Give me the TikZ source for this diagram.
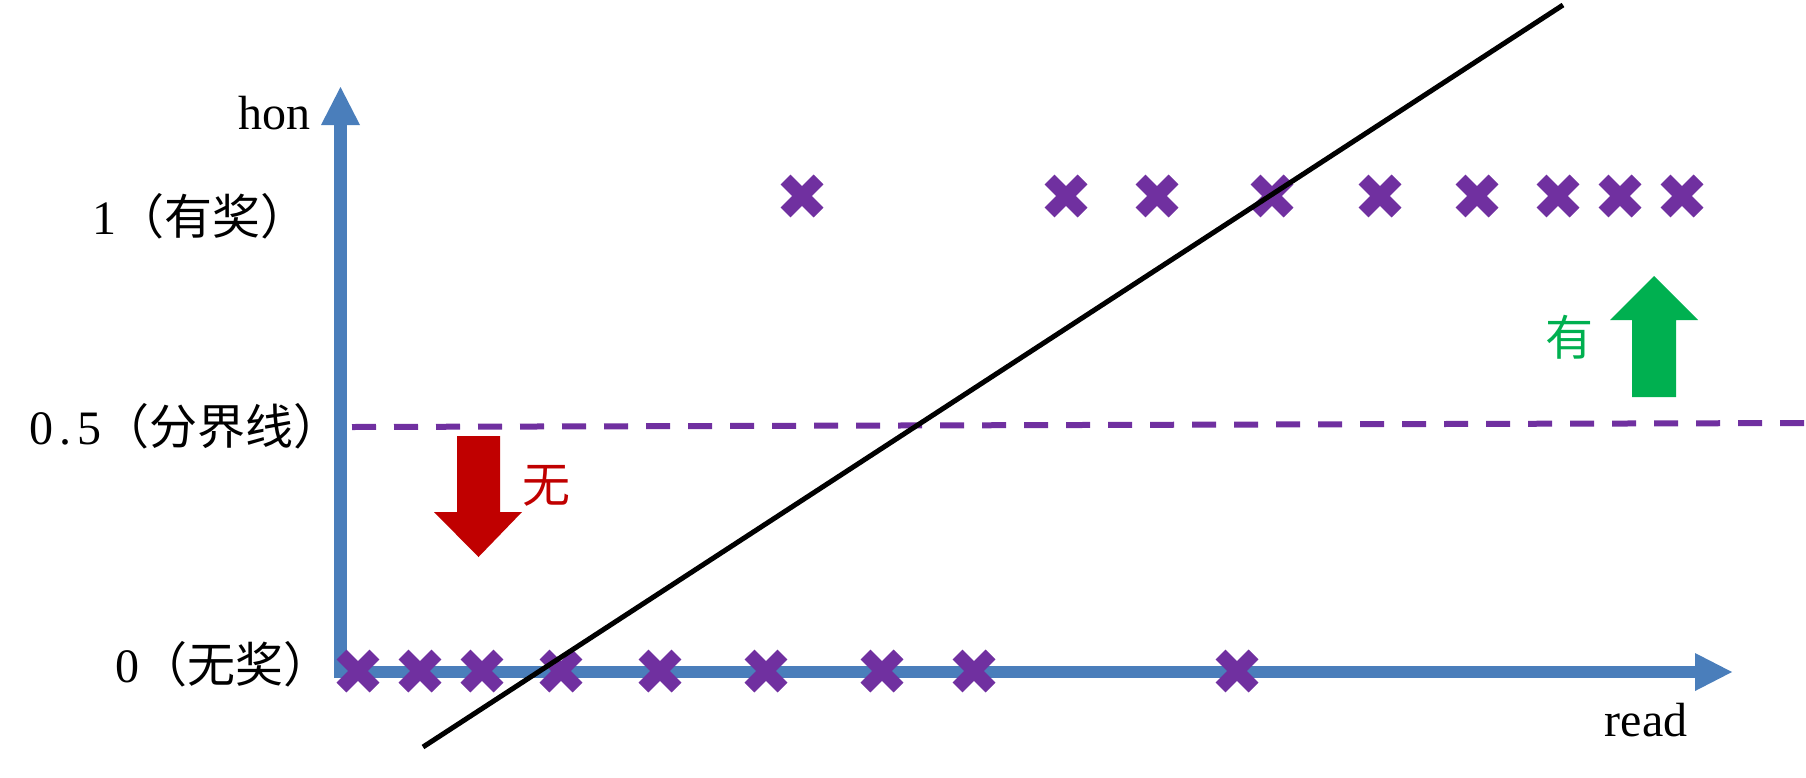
\documentclass[tikz,border=0pt]{standalone}
\usepackage{fontspec}
\setmainfont{Liberation Serif}
\newfontfamily\cjk{Noto Sans CJK SC}
\definecolor{axisblue}{RGB}{74,126,187}
\definecolor{markpurple}{RGB}{112,48,160}
\definecolor{downred}{RGB}{192,0,0}
\definecolor{upgreen}{RGB}{0,176,80}
\tikzset{
  axisline/.style={draw=axisblue, line width=12.5pt},
  axishead/.style={fill=axisblue, draw=none},
  crossarm/.style={draw=markpurple, line width=14pt, line cap=butt},
  boundary/.style={draw=markpurple, line width=6pt, dash pattern=on 24pt off 18pt},
  fitline/.style={draw=black, line width=5pt},
  lbl/.style={inner sep=0pt, font=\fontsize{48}{48}\selectfont},
}
\begin{document}
\begin{tikzpicture}[x=1pt,y=-1pt]
\useasboundingbox (0,0) rectangle (1806,777);
% axes
\draw[axisline] (340.5,678) -- (340.5,124);
\fill[axishead] (321,125) -- (360,125) -- (340.5,87) -- cycle;
\draw[axisline] (334,672) -- (1696,672);
\fill[axishead] (1695,653) -- (1695,691) -- (1732,672) -- cycle;
% boundary
\draw[boundary] (352,427) -- (1806,423);
% crosses bottom
\foreach \cx in {358,420,482,561,660,766,882,974,1237}{
  \draw[crossarm] (\cx-16.5,671-16.5) -- (\cx+16.5,671+16.5);
  \draw[crossarm] (\cx-16.5,671+16.5) -- (\cx+16.5,671-16.5);
}
% crosses top
\foreach \cx in {802,1066,1157,1272,1380,1477,1558,1620,1682}{
  \draw[crossarm] (\cx-16.5,196-16.5) -- (\cx+16.5,196+16.5);
  \draw[crossarm] (\cx-16.5,196+16.5) -- (\cx+16.5,196-16.5);
}
% fitted line
\coordinate (lineA) at (423,747);
\coordinate (lineB) at (1563,5);
\draw[fitline] (lineA) -- (lineB);
% arrows
\fill[downred] (457,436) -- (500,436) -- (500,512) -- (522,512) -- (478.5,557) -- (434,512) -- (457,512) -- cycle;
\fill[upgreen] (1632,397) -- (1676,397) -- (1676,320) -- (1698,320) -- (1654,276) -- (1610,320) -- (1632,320) -- cycle;
% labels
\node[lbl, anchor=base east] (hon) at (311,129) {hon};
\node[lbl, anchor=base west] (one) at (92,234) {1{\cjk （有奖）}};
\node[lbl, anchor=base west] (half) at (29,444) {0\hspace{6pt}.\hspace{6pt}5{\cjk （分界线）}};
\node[lbl, anchor=base west] (zero) at (115,682) {0{\cjk （无奖）}};
\node[lbl, anchor=base] (read) at (1646,736) {read};
\node[lbl, anchor=base, text=downred] (wu) at (546,502) {\cjk 无};
\node[lbl, anchor=base, text=upgreen] (you) at (1569,355) {\cjk 有};
\end{tikzpicture}
\end{document}
